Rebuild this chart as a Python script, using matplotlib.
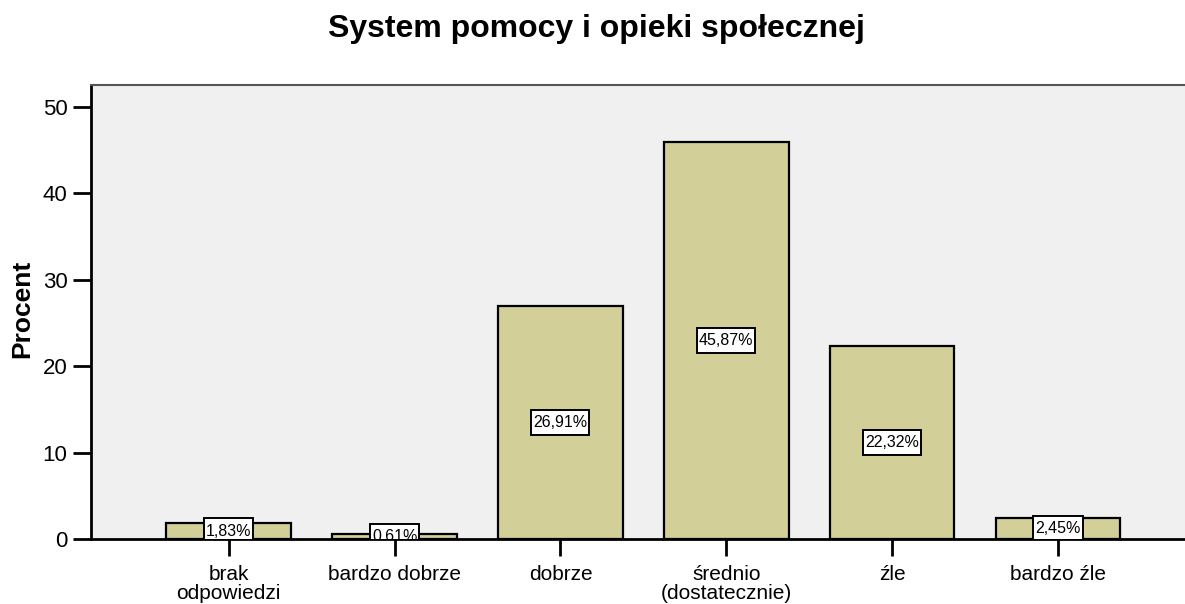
import matplotlib
matplotlib.use("Agg")
import matplotlib.pyplot as plt
from matplotlib.path import Path

plt.rcParams['font.family'] = ['Liberation Sans', 'DejaVu Sans']

categories = ["brak\nodpowiedzi", "bardzo dobrze", "dobrze", "średnio\n(dostatecznie)", "źle", "bardzo źle"]
values = [1.83, 0.61, 26.91, 45.87, 22.32, 2.45]
yticks = [0, 10, 20, 30, 40, 50]
title = "System pomocy i opieki społecznej"
ylabel = "Procent"

W, H = 1185, 604
fig = plt.figure(figsize=(W/100, H/100), dpi=100)
ax = fig.add_axes([91/W, 1-539/H, 1-91/W, (539-85)/H])
ax.set_facecolor("#F0F0F0")

x = list(range(len(categories)))
ax.bar(x, values, width=0.75, color="#D3CF99", edgecolor="black", linewidth=1.6, zorder=2)


def label_box(x0, y0, width, height, mutation_size):
    px = 0.12 * mutation_size
    py = 0.32 * mutation_size
    xa, ya = x0 - px, y0 - py
    xb, yb = x0 + width + px, y0 + height + py
    return Path([(xa, ya), (xb, ya), (xb, yb), (xa, yb), (xa, ya)], closed=True)


for xi, v in zip(x, values):
    ax.text(xi, v/2, f"{v:.2f}%".replace(".", ","), ha="center", va="center", fontsize=11.5,
            bbox=dict(boxstyle=label_box, facecolor="white", edgecolor="black", linewidth=1.4),
            zorder=3, clip_on=True)

ax.set_xlim(-0.83, 5.765)
ax.set_ylim(0, 52.5)
ax.set_yticks(yticks)
ax.set_yticklabels([str(t) for t in yticks], fontsize=16)
ax.set_xticks(x)
ax.set_xticklabels(categories, fontsize=15, linespacing=0.95)
ax.tick_params(axis='y', length=13, width=2, pad=4)
ax.tick_params(axis='x', length=12, width=2, pad=7)

ax.spines['left'].set_linewidth(2)
ax.spines['bottom'].set_linewidth(2)
ax.spines['top'].set_color("#555555")
ax.spines['top'].set_linewidth(1.5)
ax.spines['right'].set_visible(False)

fig.text(22/W, 1-309/H, ylabel, rotation=90, ha='center', va='center', fontsize=19, fontweight='bold')
fig.text(596/W, 1-37/H, title, ha='center', va='baseline', fontsize=23, fontweight='bold')

fig.savefig("out.png", dpi=100)
